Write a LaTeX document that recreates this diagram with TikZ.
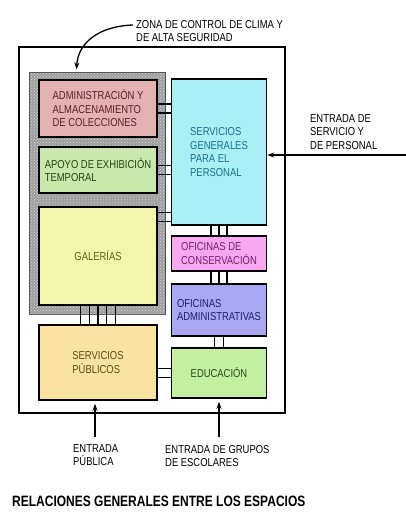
\documentclass[tikz,border=0pt]{standalone}
\usepackage{fontspec}
\newfontfamily\narrow[FakeStretch=0.82]{Liberation Sans}
\newfontfamily\titlefont[FakeStretch=0.80]{Liberation Sans}
\usetikzlibrary{arrows.meta,patterns}

\definecolor{admfill}{RGB}{228,178,178}
\definecolor{apofill}{RGB}{202,232,172}
\definecolor{galfill}{RGB}{242,245,172}
\definecolor{sgfill}{RGB}{168,240,246}
\definecolor{confill}{RGB}{246,168,240}
\definecolor{advfill}{RGB}{170,168,242}
\definecolor{edufill}{RGB}{196,240,162}
\definecolor{spfill}{RGB}{250,226,162}
\definecolor{admtext}{RGB}{95,30,40}
\definecolor{apotext}{RGB}{35,65,20}
\definecolor{galtext}{RGB}{95,95,25}
\definecolor{sgtext}{RGB}{25,110,145}
\definecolor{context}{RGB}{115,30,115}
\definecolor{advtext}{RGB}{30,30,105}
\definecolor{edutext}{RGB}{30,75,30}
\definecolor{sptext}{RGB}{95,72,20}

\begin{document}
\begin{tikzpicture}[x=1pt, y=-1pt,
    room/.style={draw, line width=1.6pt, align=left, inner sep=0pt, font=\narrow\fontsize{11.5pt}{13.5pt}\selectfont},
    left/.style={room, minimum width=118pt},
    right/.style={room, minimum width=95pt},
    zone/.style={draw=black!70, line width=1pt, fill=black!38, minimum width=136pt, minimum height=242pt,
        postaction={pattern=crosshatch dots, pattern color=white!85!black}},
    link/.style={line width=1.4pt},
    arr/.style={-{Stealth[length=7pt, width=5pt]}, line width=1.3pt},
    tnote/.style={anchor=west, align=left, inner sep=0pt, font=\narrow\fontsize{11.5pt}{13.5pt}\selectfont}
]
\useasboundingbox (0,0) rectangle (406,519);

\node[draw, line width=1.5pt, minimum width=266pt, minimum height=366pt] (edificio) at (152,230) {};
\node[zone] (zona) at (97,193) {};

\node[left, minimum height=57pt, fill=admfill, text=admtext] (adm) at (98,108.5) {ADMINISTRACIÓN Y\\ALMACENAMIENTO\\DE COLECCIONES};
\node[left, minimum height=46pt, fill=apofill, text=apotext] (apo) at (98,170) {APOYO DE EXHIBICIÓN\\TEMPORAL};
\node[left, minimum height=98pt, fill=galfill, text=galtext] (gal) at (98,256) {GALERÍAS};
\node[left, minimum height=75pt, fill=spfill, text=sptext] (sp) at (98,362.5) {SERVICIOS\\PÚBLICOS};

\node[right, minimum height=146pt, fill=sgfill, text=sgtext] (sg) at (219,152) {SERVICIOS\\GENERALES\\PARA EL\\PERSONAL};
\node[right, minimum height=35pt, fill=confill, text=context] (con) at (219,253.5) {OFICINAS DE\\CONSERVACIÓN};
\node[right, minimum height=52pt, fill=advfill, text=advtext] (adv) at (219,310) {OFICINAS\\ADMINISTRATIVAS};
\node[right, minimum height=50pt, fill=edufill, text=edutext] (edu) at (219,373) {EDUCACIÓN};

\foreach \dy in {-4.5,4.5} {
    \draw[link] ([yshift=\dy pt]adm.east) -- ([yshift=\dy pt]adm.east -| sg.west);
    \draw[link] ([yshift=\dy pt]apo.east) -- ([yshift=\dy pt]apo.east -| sg.west);
    \draw[link] ([yshift=\dy pt]edu.west) -- ([yshift=\dy pt]edu.west -| sp.east);
    \draw[link] ([xshift=\dy pt]adv.south) -- ([xshift=\dy pt]edu.north);
}
\foreach \dy in {-6,-15}
    \draw[link] ([yshift=\dy pt]gal.north east) -- ([yshift=\dy pt]gal.north east -| sg.west);
\foreach \dx in {-8,0,8} {
    \draw[link] ([xshift=\dx pt]sg.south) -- ([xshift=\dx pt]con.north);
    \draw[link] ([xshift=\dx pt]con.south) -- ([xshift=\dx pt]adv.north);
}
\foreach \dx in {-17.5,-8.75,0,8.75,17.5}
    \draw[link] ([xshift=\dx pt]gal.south) -- ([xshift=\dx pt]sp.north);

\node[tnote] (zonatxt) at (136,31) {ZONA DE CONTROL DE CLIMA Y\\DE ALTA SEGURIDAD};
\node[tnote] (servtxt) at (310,132) {ENTRADA DE\\SERVICIO Y\\DE PERSONAL};
\node[tnote] (pubtxt) at (73,455) {ENTRADA\\PÚBLICA};
\node[tnote] (esctxt) at (165,456) {ENTRADA DE GRUPOS\\DE ESCOLARES};
\node[anchor=west, inner sep=0pt, font=\titlefont\bfseries\fontsize{15pt}{17pt}\selectfont] (titulo) at (12,501) {RELACIONES GENERALES ENTRE LOS ESPACIOS};

\coordinate (zc) at (133,25);
\coordinate (serv) at (406,155);
\coordinate (pub) at (95,437);
\coordinate (esc) at (219,437);
\draw[arr] (zc) .. controls (100,26) and (78,42) .. ([xshift=48pt, yshift=2pt]zona.north west);
\draw[arr] (serv) -- (serv -| sg.east);
\draw[arr] (pub) -- ([yshift=-3pt]pub |- sp.south);
\draw[arr] (esc) -- ([yshift=-3pt]esc |- edu.south);
\end{tikzpicture}
\end{document}
